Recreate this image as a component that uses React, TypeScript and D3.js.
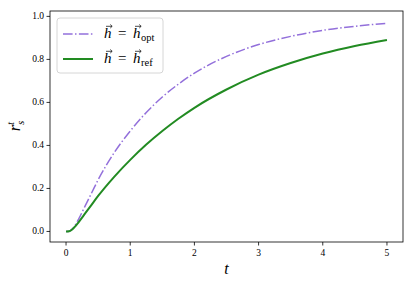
import React from "react";
import * as d3 from "d3";

const tValues = [0, 0.05, 0.1, 0.15, 0.2, 0.3, 0.4, 0.5, 0.75, 1, 1.25, 1.5, 1.75, 2, 2.5, 3, 3.5, 4, 4.5, 5];
const optValues = [0, 0.001, 0.012, 0.033, 0.06, 0.12, 0.18, 0.24, 0.366, 0.467, 0.553, 0.625, 0.685, 0.736, 0.814, 0.869, 0.907, 0.935, 0.954, 0.968];
const refValues = [0, 0.001, 0.01, 0.026, 0.045, 0.085, 0.125, 0.165, 0.254, 0.333, 0.404, 0.467, 0.524, 0.575, 0.66, 0.729, 0.783, 0.827, 0.862, 0.89];
const xTicks = [0, 1, 2, 3, 4, 5];
const yTicks = [0, 0.2, 0.4, 0.6, 0.8, 1.0];

const W = 415;
const H = 285;
const left = 50, right = 403, top = 11, bottom = 242;
const font = "'Liberation Serif', 'DejaVu Serif', serif";
const fs = (size: number, italic = false): React.CSSProperties => ({
  fontFamily: font,
  fontSize: size,
  fontStyle: italic ? "italic" : "normal",
});

function VecH({ x, y, size }: { x: number; y: number; size: number }) {
  const ay = y - size * 0.78;
  return (
    <g>
      <text x={x} y={y} style={fs(size, true)}>h</text>
      <path d={`M${x + 2},${ay} L${x + 8},${ay}`} stroke="#000" strokeWidth={0.7} />
      <path d={`M${x + 6.2},${ay - 1.8} L${x + 8.2},${ay} L${x + 6.2},${ay + 1.8}`} stroke="#000" strokeWidth={0.7} fill="none" />
    </g>
  );
}

export default function App() {
  const x = d3.scaleLinear().domain([-0.25, 5.25]).range([left, right]);
  const y = d3.scaleLinear().domain([-0.049, 1.025]).range([bottom, top]);
  const line = (vals: number[]) =>
    d3.line<number>().x((_, i) => x(tValues[i])).y((v) => y(v)).curve(d3.curveMonotoneX)(vals) || "";

  return (
    <svg width={W} height={H} style={{ position: "absolute", left: 0, top: 0 }}>
      <rect x={0} y={0} width={W} height={H} fill="#fff" />
      <path d={line(optValues)} fill="none" stroke="#9370DB" strokeWidth={1.5} strokeDasharray="9.6,2.4,1.5,2.4" />
      <path d={line(refValues)} fill="none" stroke="#228B22" strokeWidth={2} />
      <rect x={left} y={top} width={right - left} height={bottom - top} fill="none" stroke="#000" strokeWidth={0.8} />
      {xTicks.map((t) => (
        <g key={"x" + t}>
          <line x1={x(t)} x2={x(t)} y1={bottom} y2={bottom + 3.5} stroke="#000" strokeWidth={0.8} />
          <text x={x(t)} y={bottom + 14} textAnchor="middle" style={fs(9.5)}>{t}</text>
        </g>
      ))}
      {yTicks.map((t) => (
        <g key={"y" + t}>
          <line x1={left - 3.5} x2={left} y1={y(t)} y2={y(t)} stroke="#000" strokeWidth={0.8} />
          <text x={left - 6} y={y(t) + 3} textAnchor="end" style={fs(9.5)}>{t.toFixed(1)}</text>
        </g>
      ))}
      <text x={(left + right) / 2} y={274} textAnchor="middle" style={fs(16, true)}>t</text>
      <g transform="translate(20,126) rotate(-90)">
        <text x={0} y={0} textAnchor="middle" style={fs(16, true)}>
          <tspan>r</tspan>
          <tspan style={fs(11, true)} dy={-6}>t</tspan>
          <tspan style={fs(11, true)} dx={-3} dy={10}>s</tspan>
        </text>
      </g>
      <rect x={57} y={18} width={106} height={55} rx={3} fill="#fff" fillOpacity={0.8} stroke="#ccc" strokeWidth={0.8} />
      <line x1={63} x2={93} y1={34} y2={34} stroke="#9370DB" strokeWidth={1.5} strokeDasharray="9.6,2.4,1.5,2.4" />
      <line x1={63} x2={93} y1={59} y2={59} stroke="#228B22" strokeWidth={2} />
      <VecH x={104} y={38} size={15} />
      <text x={118} y={38} style={fs(15)}>=</text>
      <VecH x={133} y={38} size={15} />
      <text x={141} y={41} style={fs(10.5)}>opt</text>
      <VecH x={104} y={63} size={15} />
      <text x={118} y={63} style={fs(15)}>=</text>
      <VecH x={133} y={63} size={15} />
      <text x={141} y={66} style={fs(10.5)}>ref</text>
    </svg>
  );
}
